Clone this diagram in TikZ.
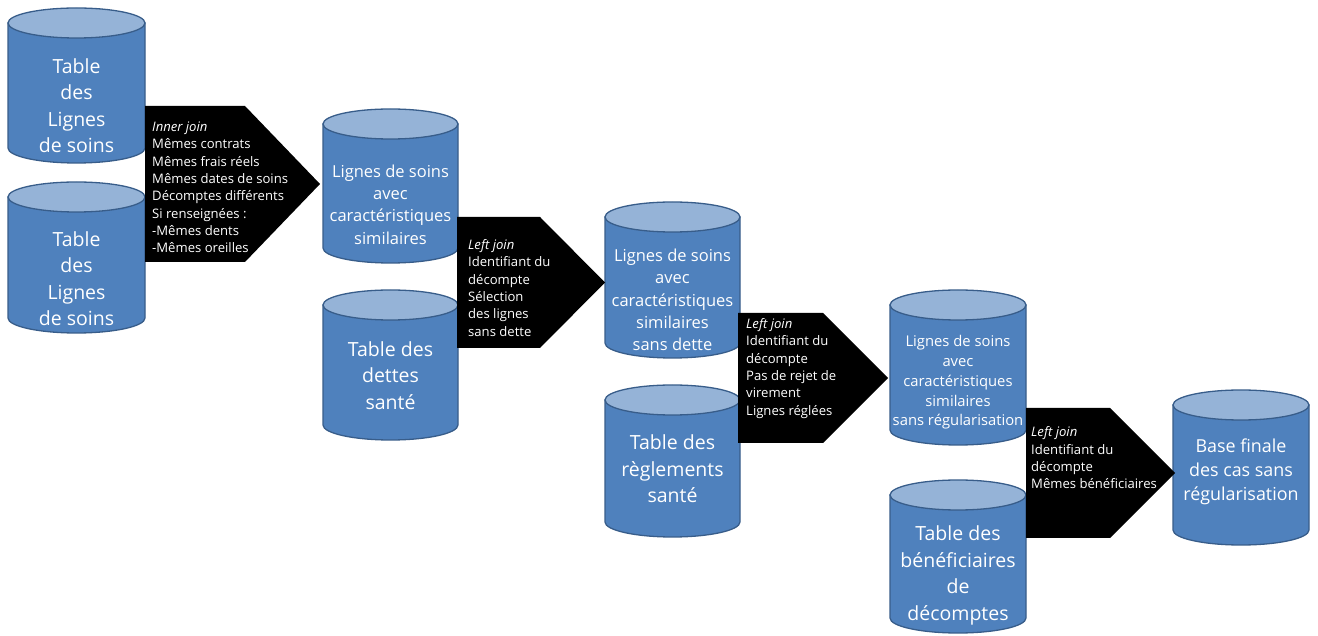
\documentclass[tikz,border=0pt]{standalone}
\usepackage{fontspec}
\setmainfont{Open Sans}
\begin{document}
\definecolor{dbside}{HTML}{4F81BD}
\definecolor{dbtop}{HTML}{95B3D7}
\definecolor{dbline}{HTML}{385D8A}
% database cylinder: left x, top y, right x, bottom y (y measured downwards)
\newcommand\dbcyl[4]{%
  \pgfmathsetmacro\cxa{#1}\pgfmathsetmacro\cxb{#3}%
  \pgfmathsetmacro\cyt{635-#2-15}\pgfmathsetmacro\cyb{635-#4+15}%
  \pgfmathsetmacro\crx{(#3-#1)/2}\pgfmathsetmacro\ccx{(#1+#3)/2}%
  \path[cylside] (\cxa,\cyt) -- (\cxa,\cyb)
     arc[start angle=180,end angle=360,x radius=\crx,y radius=15]
     -- (\cxb,\cyt) -- cycle;
  \path[cyltop] (\ccx,\cyt) ellipse[x radius=\crx,y radius=15];
}
\begin{tikzpicture}[x=1pt,y=1pt,
  cylside/.style={fill=dbside,draw=dbline,line width=1.3pt},
  cyltop/.style={fill=dbtop,draw=dbline,line width=1.3pt},
  joinshape/.style={fill=black},
  dbbig/.style={text=white,align=center,inner sep=0pt,font=\fontsize{19.5}{26.5}\selectfont},
  dbmid/.style={text=white,align=center,inner sep=0pt,font=\fontsize{16.5}{22.3}\selectfont},
  dbsmall/.style={text=white,align=center,inner sep=0pt,font=\fontsize{14.8}{19.8}\selectfont},
  dbfinal/.style={text=white,align=center,inner sep=0pt,font=\fontsize{17.9}{24}\selectfont},
  jointext/.style={text=white,align=left,anchor=west,inner sep=0pt,font=\fontsize{13.1}{17.3}\selectfont}]
\useasboundingbox (0,0) rectangle (1318,635);
\fill[white] (0,0) rectangle (1318,635);

% tables
\dbcyl{8}{8}{145}{163}
\dbcyl{8}{182}{145}{333}
\dbcyl{323}{109}{458}{263}
\dbcyl{323}{290}{458}{440}
\dbcyl{605}{202}{740}{358}
\dbcyl{605}{385}{740}{537}
\dbcyl{890}{290}{1026}{445}
\dbcyl{890}{480}{1026}{633}
\dbcyl{1173}{390}{1309}{545}

\node[dbbig] (soinsA) at (76.5,529.5) {Table\\des\\Lignes\\de soins};
\node[dbbig] (soinsB) at (76.5,356.5) {Table\\des\\Lignes\\de soins};
\node[dbmid] (simil) at (390.5,430.5) {Lignes de soins\\avec\\caractéristiques\\similaires};
\node[dbbig] (dettes) at (390.5,259.5) {Table des\\dettes\\santé};
\node[dbmid] (sansdette) at (672.5,335) {Lignes de soins\\avec\\caractéristiques\\similaires\\sans dette};
\node[dbbig] (reglements) at (672.5,166) {Table des\\règlements\\santé};
\node[dbsmall] (sansregul) at (958,252.5) {Lignes de soins\\avec\\caractéristiques\\similaires\\sans régularisation};
\node[dbbig] (benef) at (958,59.5) {Table des\\bénéficiaires\\de\\décomptes};
\node[dbfinal] (final) at (1241,163) {Base finale\\des cas sans\\régularisation};

% join steps
\fill[joinshape] (145,529) -- (245,529) -- (320,451) -- (245,373) -- (145,373) -- cycle;
\fill[joinshape] (457,418) -- (540,418) -- (605,352.5) -- (540,287) -- (457,287) -- cycle;
\fill[joinshape] (738,322) -- (823,322) -- (888,257) -- (823,192) -- (738,192) -- cycle;
\fill[joinshape] (1026,227) -- (1110,227) -- (1175,162) -- (1110,97) -- (1026,97) -- cycle;

\node[jointext] (joinA) at (152,447.5) {\textit{Inner join}\\Mêmes contrats\\Mêmes frais réels\\Mêmes dates de soins\\Décomptes différents\\Si renseignées :\\-Mêmes dents\\-Mêmes oreilles};
\node[jointext] (joinB) at (468,347) {\textit{Left join}\\Identifiant du\\décompte\\Sélection\\des lignes\\sans dette};
\node[jointext] (joinC) at (746,266.5) {\textit{Left join}\\Identifiant du\\décompte\\Pas de rejet de\\virement\\Lignes réglées};
\node[jointext] (joinD) at (1031,177) {\textit{Left join}\\Identifiant du\\décompte\\Mêmes bénéficiaires};
\end{tikzpicture}
\end{document}
